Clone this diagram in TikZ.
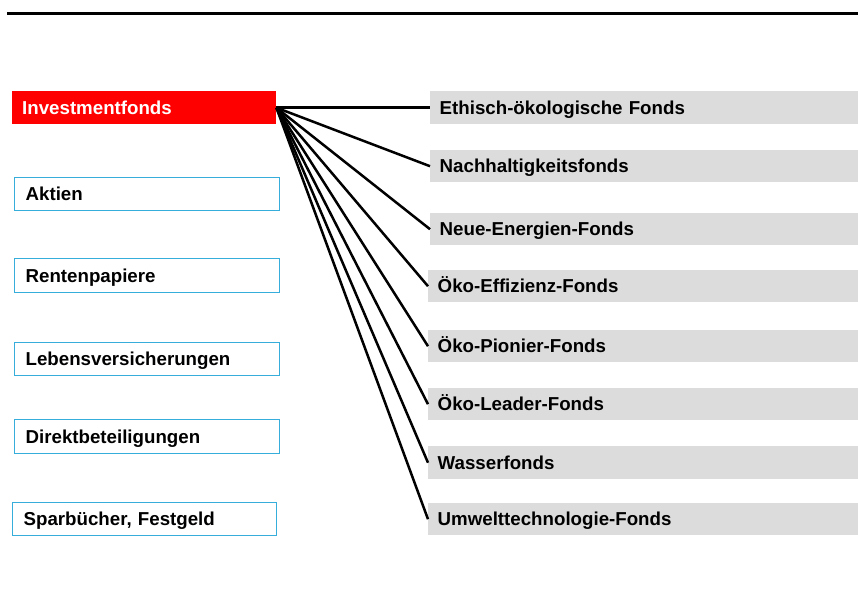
\documentclass[tikz,border=0pt]{standalone}
\usepackage{fontspec}
\setmainfont{Liberation Sans}
\definecolor{boxblue}{RGB}{54,173,218}
\definecolor{boxgray}{RGB}{220,220,220}
\definecolor{boxred}{RGB}{255,0,0}
\tikzset{
  basebox/.style={anchor=north west, inner xsep=10pt, inner ysep=0pt, align=left,
    text height=17pt, text depth=4pt, font=\fontsize{18.7}{20}\selectfont\bfseries},
  redbox/.style={basebox, fill=boxred, text=white},
  bluebox/.style={basebox, draw=boxblue, line width=1.3pt},
  graybox/.style={basebox, fill=boxgray, inner xsep=9.5pt},
  link/.style={line width=2.5pt, black}
}
\begin{document}
\begin{tikzpicture}[x=1pt,y=-1pt]
\useasboundingbox (0,0) rectangle (858,603);
\draw[line width=3pt] (7,13.5) -- (858,13.5);
% left column
\node[redbox, minimum width=264pt, minimum height=33pt, text width=244pt] (inv) at (12,91) {Investmentfonds};
\node[bluebox, minimum width=265pt, minimum height=33pt, text width=243pt] (akt) at (14,177) {Aktien};
\node[bluebox, minimum width=265pt, minimum height=34pt, text width=243pt] (ren) at (14,258) {Rentenpapiere};
\node[bluebox, minimum width=265pt, minimum height=33pt, text width=243pt] (leb) at (14,342) {Lebensversicherungen};
\node[bluebox, minimum width=265pt, minimum height=34pt, text width=243pt] (dir) at (14,419) {Direktbeteiligungen};
\node[bluebox, minimum width=264pt, minimum height=33pt, text width=242pt] (spa) at (12,502) {Sparbücher, Festgeld};
% right column
\node[graybox, minimum width=428pt, minimum height=33pt, text width=409pt] (eth) at (430,91) {Ethisch-ökologische Fonds};
\node[graybox, minimum width=428pt, minimum height=32pt, text width=409pt] (nac) at (430,150) {Nachhaltigkeitsfonds};
\node[graybox, minimum width=428pt, minimum height=32pt, text width=409pt] (neu) at (430,213) {Neue-Energien-Fonds};
\node[graybox, minimum width=430pt, minimum height=32pt, text width=411pt] (eff) at (428,270) {Öko-Effizienz-Fonds};
\node[graybox, minimum width=430pt, minimum height=32pt, text width=411pt] (pio) at (428,330) {Öko-Pionier-Fonds};
\node[graybox, minimum width=430pt, minimum height=32pt, text width=411pt] (lea) at (428,388) {Öko-Leader-Fonds};
\node[graybox, minimum width=430pt, minimum height=33pt, text width=411pt] (was) at (428,446) {Wasserfonds};
\node[graybox, minimum width=430pt, minimum height=32pt, text width=411pt] (umw) at (428,503) {Umwelttechnologie-Fonds};
% connectors
\foreach \t in {eth,nac,neu,eff,pio,lea,was,umw}
  \draw[link] (inv.east) -- (\t.west);
\end{tikzpicture}
\end{document}
